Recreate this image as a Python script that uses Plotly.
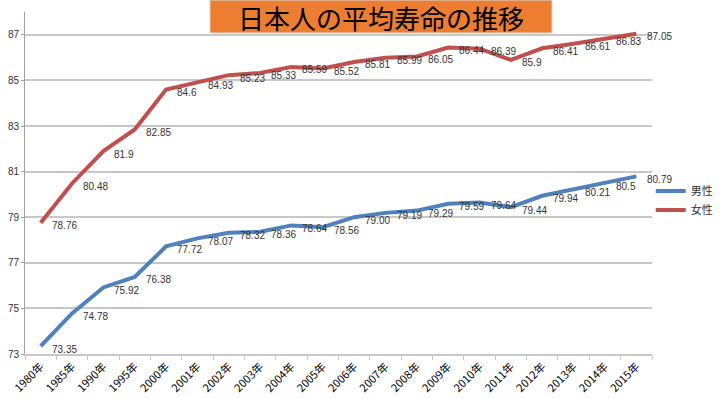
import plotly.graph_objects as go

categories = ["1980年", "1985年", "1990年", "1995年", "2000年", "2001年", "2002年", "2003年",
              "2004年", "2005年", "2006年", "2007年", "2008年", "2009年", "2010年", "2011年",
              "2012年", "2013年", "2014年", "2015年"]
male = [73.35, 74.78, 75.92, 76.38, 77.72, 78.07, 78.32, 78.36, 78.64, 78.56,
        79.00, 79.19, 79.29, 79.59, 79.64, 79.44, 79.94, 80.21, 80.5, 80.79]
female = [78.76, 80.48, 81.9, 82.85, 84.6, 84.93, 85.23, 85.33, 85.59, 85.52,
          85.81, 85.99, 86.05, 86.44, 86.39, 85.9, 86.41, 86.61, 86.83, 87.05]
male_labels = ["73.35", "74.78", "75.92", "76.38", "77.72", "78.07", "78.32", "78.36", "78.64", "78.56",
               "79.00", "79.19", "79.29", "79.59", "79.64", "79.44", "79.94", "80.21", "80.5", "80.79"]
female_labels = ["78.76", "80.48", "81.9", "82.85", "84.6", "84.93", "85.23", "85.33", "85.59", "85.52",
                 "85.81", "85.99", "86.05", "86.44", "86.39", "85.9", "86.41", "86.61", "86.83", "87.05"]
series_names = ["男性", "女性"]
title_text = "日本人の平均寿命の推移"

FONT = "Liberation Sans, Noto Sans CJK JP, sans-serif"
CJK = "Noto Sans CJK JP, sans-serif"

fig = go.Figure()
fig.add_trace(go.Scatter(x=categories, y=male, name=series_names[0], mode="lines",
                         line=dict(color="#4F81BD", width=4)))
fig.add_trace(go.Scatter(x=categories, y=female, name=series_names[1], mode="lines",
                         line=dict(color="#C0504D", width=4)))

annotations = []
for xs, ys, ts in [(categories, male, male_labels), (categories, female, female_labels)]:
    for c, v, t in zip(xs, ys, ts):
        annotations.append(dict(x=c, y=v, text=t, showarrow=False, xanchor="left",
                                yanchor="middle", xshift=9, yshift=-3,
                                font=dict(size=10, color="#333333", family=FONT)))

annotations.append(dict(xref="paper", yref="paper", x=0.5678, y=0.984, text=title_text,
                        showarrow=False, xanchor="center", yanchor="middle",
                        font=dict(size=26, color="#000000", family=CJK)))

fig.update_layout(
    width=721, height=398,
    margin=dict(l=25, r=69, t=12, b=44, autoexpand=False),
    paper_bgcolor="white", plot_bgcolor="white",
    showlegend=True,
    legend=dict(x=0.998, y=0.449, xanchor="left", yanchor="middle",
                font=dict(size=11, color="#333333", family=CJK),
                itemwidth=30, bgcolor="rgba(0,0,0,0)"),
    annotations=annotations,
    shapes=[dict(type="rect", xref="paper", yref="paper", x0=0.295, x1=0.8405,
                 y0=0.9386, y1=1.035, fillcolor="#ED7D31",
                 line=dict(color="#d9d9d9", width=1), layer="above")],
    xaxis=dict(type="category", showgrid=False, showline=True, linecolor="#c8c8c8", linewidth=2,
               ticks="outside", tickson="boundaries", ticklen=4, tickcolor="#c8c8c8", tickwidth=1,
               tickangle=-45, tickfont=dict(size=11, color="#000000", family=CJK),
               range=[-0.5, 19.5], zeroline=False, automargin=False),
    yaxis=dict(range=[73, 88], tick0=73, dtick=2, showgrid=True, gridcolor="#c8c8c8", gridwidth=2,
               showline=True, linecolor="#a0a0a0", linewidth=1, ticks="outside", ticklen=3,
               tickcolor="#a0a0a0", tickfont=dict(size=10, color="#333333", family=FONT),
               zeroline=False, automargin=False),
)

fig.write_html("out.html", config={"displayModeBar": False},
               post_script="document.body.style.margin='0';")
